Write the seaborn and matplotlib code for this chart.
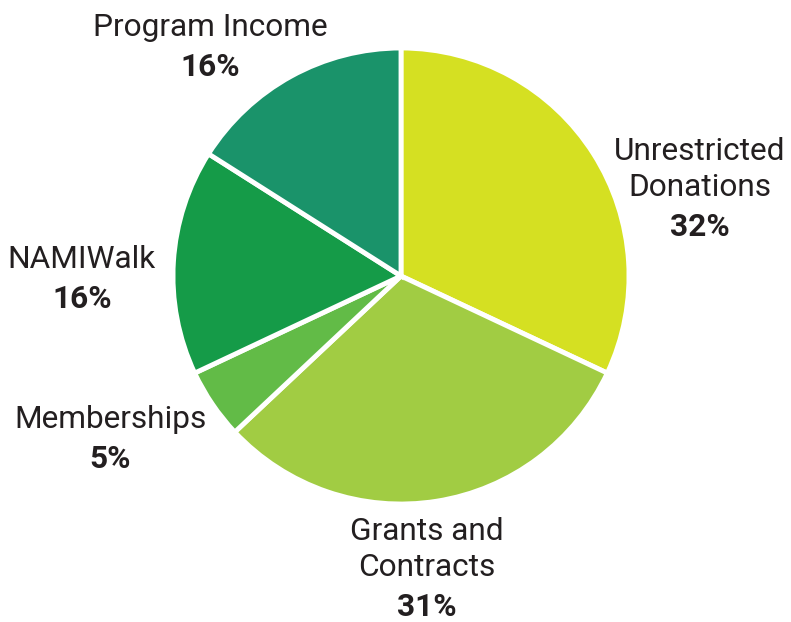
import matplotlib
matplotlib.use("Agg")
import matplotlib.pyplot as plt
import seaborn as sns

# Revenue breakdown (percent), clockwise from 12 o'clock
categories = ["Unrestricted\nDonations", "Grants and\nContracts", "Memberships",
              "NAMIWalk", "Program Income"]
shares = [32, 31, 5, 16, 16]
slice_colors = ["#d5e022", "#a1cc43", "#62bb47", "#159b48", "#1a936a"]

sns.set_theme(style="white")
plt.rcParams['font.family'] = ['Roboto', 'DejaVu Sans']

fig = plt.figure(figsize=(7.91, 6.22), dpi=100)
W, H = 791, 622
cx, cy, r = 401, 276, 228
ax = fig.add_axes([(cx - r) / W, (H - cy - r) / H, 2 * r / W, 2 * r / H])
ax.pie(shares, colors=slice_colors, startangle=90, counterclock=False,
       radius=1.0, wedgeprops=dict(edgecolor="white", linewidth=3.5))
ax.set_xlim(-1.0, 1.0)
ax.set_ylim(-1.0, 1.0)
ax.set_aspect("equal")
ax.axis("off")

# label anchor points in pixels (center of first text line)
label_pos = [(700, 152), (427, 532), (110, 420), (82, 260), (210, 28)]
text_color = "#231f20"
for name, val, (px, py) in zip(categories, shares, label_pos):
    lines = name.split("\n")
    for i, line in enumerate(lines):
        fig.text(px / W, 1 - (py + 36 * i) / H, line, ha="center", va="center",
                 fontsize=22.8, color=text_color, fontweight="normal")
    pct_y = py + 36 * (len(lines) - 1) + 39
    fig.text(px / W, 1 - pct_y / H, f"{val}%", ha="center", va="center",
             fontsize=22.8, color=text_color, fontweight="bold")

fig.savefig("out.png", dpi=100)
